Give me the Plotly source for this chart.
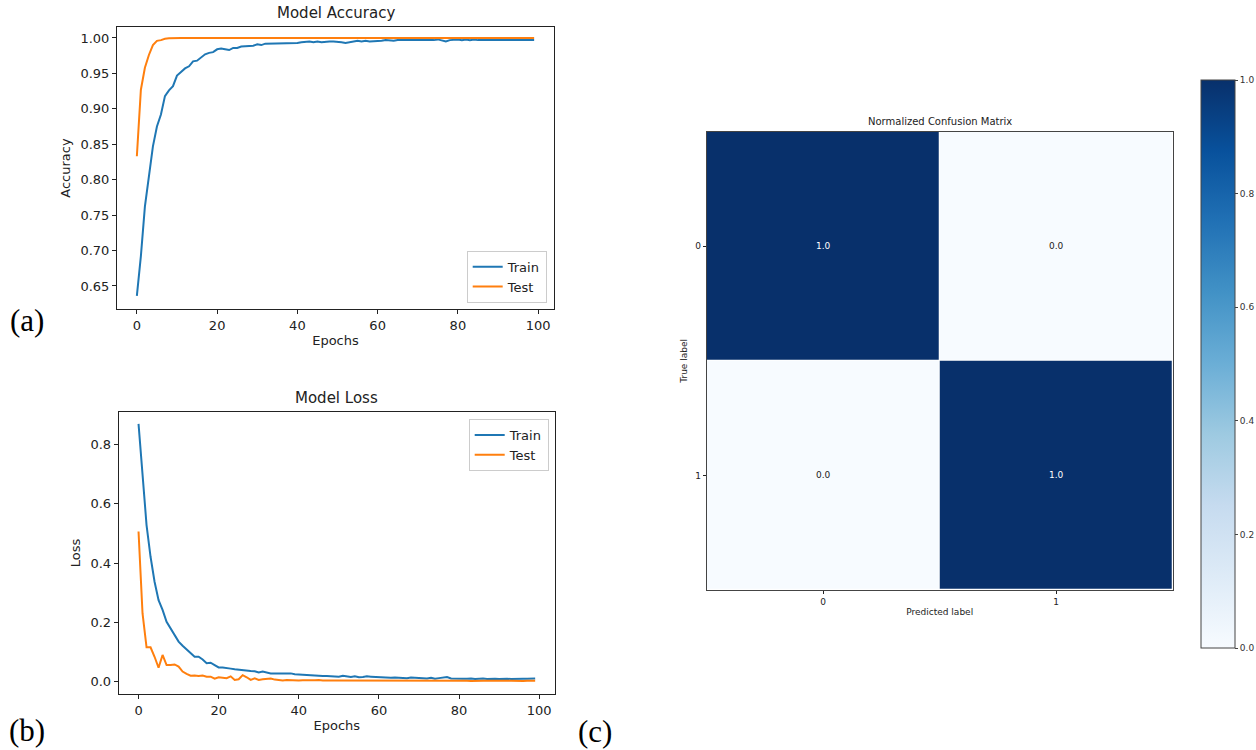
import plotly.graph_objects as go

W, H = 1256, 750

# ---------------- training history ----------------
epochs = list(range(100))

train_acc = [
    0.636, 0.692, 0.762, 0.805, 0.847, 0.875, 0.892, 0.918, 0.926, 0.932,
    0.947, 0.952, 0.957, 0.960, 0.967, 0.968, 0.972, 0.977, 0.979, 0.980,
    0.984, 0.985, 0.984, 0.983, 0.986, 0.986, 0.988, 0.988, 0.989, 0.989,
    0.991, 0.990, 0.992, 0.992, 0.992, 0.992, 0.993, 0.993, 0.992, 0.993,
    0.993, 0.994, 0.995, 0.995, 0.994, 0.995, 0.994, 0.995, 0.995, 0.995,
    0.995, 0.994, 0.993, 0.994, 0.995, 0.996, 0.995, 0.996, 0.995, 0.995,
    0.996, 0.996, 0.997, 0.996, 0.996, 0.997, 0.997, 0.997, 0.996, 0.996,
    0.996, 0.997, 0.996, 0.997, 0.997, 0.998, 0.996, 0.995, 0.997, 0.998,
    0.998, 0.997, 0.998, 0.997, 0.998, 0.997, 0.997, 0.998, 0.997, 0.998,
    0.997, 0.998, 0.997, 0.998, 0.997, 0.998, 0.998, 0.997, 0.997, 0.997,
]

test_acc = [
    0.833, 0.927, 0.958, 0.976, 0.990, 0.996, 0.997, 0.999, 0.9995, 1.0,
    1.0, 1.0, 1.0, 1.0, 1.0, 1.0, 1.0, 1.0, 1.0, 1.0,
    1.0, 1.0, 1.0, 1.0, 1.0, 1.0, 1.0, 1.0, 1.0, 1.0,
    1.0, 1.0, 1.0, 1.0, 1.0, 1.0, 1.0, 1.0, 1.0, 1.0,
    1.0, 1.0, 1.0, 1.0, 1.0, 1.0, 1.0, 1.0, 1.0, 1.0,
    1.0, 1.0, 1.0, 1.0, 1.0, 1.0, 1.0, 1.0, 1.0, 1.0,
    1.0, 1.0, 1.0, 1.0, 1.0, 1.0, 1.0, 1.0, 1.0, 1.0,
    1.0, 1.0, 1.0, 1.0, 1.0, 1.0, 1.0, 1.0, 1.0, 1.0,
    1.0, 1.0, 1.0, 1.0, 1.0, 1.0, 1.0, 1.0, 1.0, 1.0,
    1.0, 1.0, 1.0, 1.0, 1.0, 1.0, 1.0, 1.0, 1.0, 1.0,
]

train_loss = [
    0.869, 0.691, 0.528, 0.421, 0.337, 0.275, 0.242, 0.202, 0.180, 0.157,
    0.135, 0.121, 0.109, 0.096, 0.084, 0.084, 0.075, 0.062, 0.064, 0.056,
    0.048, 0.048, 0.047, 0.044, 0.042, 0.040, 0.038, 0.036, 0.036, 0.035,
    0.031, 0.034, 0.030, 0.028, 0.028, 0.028, 0.027, 0.026, 0.028, 0.025,
    0.024, 0.023, 0.021, 0.020, 0.019, 0.019, 0.019, 0.019, 0.018, 0.019,
    0.017, 0.020, 0.019, 0.016, 0.018, 0.015, 0.016, 0.018, 0.017, 0.016,
    0.015, 0.014, 0.014, 0.013, 0.014, 0.013, 0.013, 0.012, 0.014, 0.013,
    0.012, 0.012, 0.011, 0.013, 0.010, 0.012, 0.014, 0.016, 0.011, 0.010,
    0.011, 0.010, 0.010, 0.011, 0.009, 0.010, 0.011, 0.009, 0.010, 0.010,
    0.009, 0.010, 0.010, 0.009, 0.010, 0.009, 0.010, 0.010, 0.011, 0.011,
]

test_loss = [
    0.506, 0.230, 0.116, 0.116, 0.084, 0.047, 0.090, 0.056, 0.056, 0.058,
    0.051, 0.034, 0.026, 0.020, 0.021, 0.019, 0.021, 0.017, 0.017, 0.010,
    0.015, 0.013, 0.012, 0.018, 0.006, 0.008, 0.022, 0.015, 0.006, 0.011,
    0.006, 0.008, 0.009, 0.011, 0.007, 0.006, 0.004, 0.006, 0.005, 0.004,
    0.004, 0.005, 0.004, 0.005, 0.005, 0.006, 0.004, 0.003, 0.004, 0.004,
    0.004, 0.004, 0.005, 0.004, 0.004, 0.004, 0.003, 0.003, 0.003, 0.003,
    0.003, 0.003, 0.003, 0.004, 0.003, 0.003, 0.003, 0.004, 0.005, 0.003,
    0.003, 0.003, 0.003, 0.003, 0.003, 0.003, 0.003, 0.003, 0.003, 0.003,
    0.003, 0.003, 0.003, 0.002, 0.003, 0.003, 0.003, 0.003, 0.002, 0.003,
    0.003, 0.002, 0.003, 0.003, 0.002, 0.003, 0.002, 0.003, 0.003, 0.003,
]

# ---------------- confusion matrix ----------------
class_labels = ["0", "1"]
cm_norm = [
    [1.0, 0.0],
    [0.0, 1.0],
]

series_names = ["Train", "Test"]
BLUE, ORANGE = "#1f77b4", "#ff7f0e"
BLUES = ["#f7fbff", "#deebf7", "#c6dbef", "#9ecae1", "#6baed6",
         "#4292c6", "#2171b5", "#08519c", "#08306b"]
SANS = "DejaVu Sans"
SERIF = "Liberation Serif"


def px_x(p):
    return p / W


def px_y(p):
    return 1 - p / H


fig = go.Figure()

# accuracy curves
fig.add_trace(go.Scatter(x=epochs, y=train_acc, mode="lines", name=series_names[0],
                         line=dict(color=BLUE, width=2), xaxis="x", yaxis="y",
                         legend="legend"))
fig.add_trace(go.Scatter(x=epochs, y=test_acc, mode="lines", name=series_names[1],
                         line=dict(color=ORANGE, width=2), xaxis="x", yaxis="y",
                         legend="legend"))

# loss curves
fig.add_trace(go.Scatter(x=epochs, y=train_loss, mode="lines", name=series_names[0],
                         line=dict(color=BLUE, width=2), xaxis="x2", yaxis="y2",
                         legend="legend2"))
fig.add_trace(go.Scatter(x=epochs, y=test_loss, mode="lines", name=series_names[1],
                         line=dict(color=ORANGE, width=2), xaxis="x2", yaxis="y2",
                         legend="legend2"))

# confusion matrix heatmap
cell_text = [[f"{v:.1f}" for v in row] for row in cm_norm]
scale = [[i / (len(BLUES) - 1), c] for i, c in enumerate(BLUES)]
fig.add_trace(go.Heatmap(
    z=cm_norm, x=[0, 1], y=[0, 1], xaxis="x3", yaxis="y3",
    colorscale=scale, zmin=0, zmax=1, xgap=1, ygap=1,
    showscale=True, hoverinfo="skip",
    colorbar=dict(
        x=px_x(1201), xanchor="left", xpad=0, ypad=0,
        y=px_y(648), yanchor="bottom", len=(648 - 80) / H, lenmode="fraction",
        thickness=34, thicknessmode="pixels",
        outlinecolor="#444", outlinewidth=1,
        tickvals=[0.0, 0.2, 0.4, 0.6, 0.8, 1.0], ticktext=["0.0", "0.2", "0.4", "0.6", "0.8", "1.0"],
        ticks="outside", ticklen=3, tickcolor="#444",
        tickfont=dict(family=SANS, size=9, color="#333"),
    ),
))

# value annotations on cells
for i, row in enumerate(cm_norm):
    for j, v in enumerate(row):
        fig.add_annotation(x=j, y=i, xref="x3", yref="y3", text=cell_text[i][j],
                           showarrow=False,
                           font=dict(family=SANS, size=9,
                                     color="white" if v > 0.5 else "#222"))

axis_common = dict(
    showline=True, mirror=True, linecolor="#222", linewidth=1,
    ticks="outside", ticklen=4, tickcolor="#222", showgrid=False, zeroline=False,
    tickfont=dict(family=SANS, size=13, color="#222"),
)

fig.update_layout(
    width=W, height=H, margin=dict(l=0, r=0, t=0, b=0),
    paper_bgcolor="white", plot_bgcolor="white",
    font=dict(family=SANS, color="#222"),
    xaxis=dict(axis_common, domain=[px_x(117), px_x(554)], range=[-4.95, 103.95],
               tickvals=[0, 20, 40, 60, 80, 100], anchor="y",
               title=dict(text="Epochs", font=dict(size=13), standoff=4)),
    yaxis=dict(axis_common, domain=[px_y(309), px_y(27)], range=[0.6175, 1.0155],
               tickvals=[0.65, 0.70, 0.75, 0.80, 0.85, 0.90, 0.95, 1.00],
               tickformat=".2f", anchor="x",
               title=dict(text="Accuracy", font=dict(size=13), standoff=6)),
    xaxis2=dict(axis_common, domain=[px_x(118.7), px_x(555)], range=[-4.95, 103.95],
                tickvals=[0, 20, 40, 60, 80, 100], anchor="y2",
                title=dict(text="Epochs", font=dict(size=13), standoff=4)),
    yaxis2=dict(axis_common, domain=[px_y(694), px_y(412)], range=[-0.0415, 0.909],
                tickvals=[0.0, 0.2, 0.4, 0.6, 0.8], tickformat=".1f", anchor="x2",
                title=dict(text="Loss", font=dict(size=13), standoff=6)),
    xaxis3=dict(axis_common, domain=[px_x(706.7), px_x(1172.7)], range=[-0.5, 1.5],
                tickvals=[0, 1], ticktext=class_labels, anchor="y3",
                linecolor="#444", ticklen=3,
                tickfont=dict(family=SANS, size=9, color="#222"),
                title=dict(text="Predicted label", font=dict(size=9), standoff=2)),
    yaxis3=dict(axis_common, domain=[px_y(590), px_y(131.7)], range=[1.5, -0.5],
                tickvals=[0, 1], ticktext=class_labels, anchor="x3",
                linecolor="#444", ticklen=3,
                tickfont=dict(family=SANS, size=9, color="#222"),
                title=dict(text="True label", font=dict(size=9), standoff=6)),
    legend=dict(x=px_x(546.7), y=px_y(302.7), xanchor="right", yanchor="bottom",
                bgcolor="white", bordercolor="#cccccc", borderwidth=1,
                font=dict(family=SANS, size=13, color="#222"),
                itemwidth=30, tracegroupgap=0),
    legend2=dict(x=px_x(548.7), y=px_y(419), xanchor="right", yanchor="top",
                 bgcolor="white", bordercolor="#cccccc", borderwidth=1,
                 font=dict(family=SANS, size=13, color="#222"),
                 itemwidth=30, tracegroupgap=0),
)

# panel titles
titles = [("Model Accuracy", 335.5, 13, 15), ("Model Loss", 336.8, 398, 15),
          ("Normalized Confusion Matrix", 939.7, 122, 10)]
for text, cx, cy, size in titles:
    fig.add_annotation(x=px_x(cx), y=px_y(cy), xref="paper", yref="paper",
                       text=text, showarrow=False, xanchor="center", yanchor="middle",
                       font=dict(family=SANS, size=size, color="#222"))

# panel letters
letters = [("(a)", 27, 320), ("(b)", 27, 730), ("(c)", 595, 731)]
for text, cx, cy in letters:
    fig.add_annotation(x=px_x(cx), y=px_y(cy), xref="paper", yref="paper",
                       text=text, showarrow=False, xanchor="center", yanchor="middle",
                       font=dict(family=SERIF, size=31, color="#000"))

fig.write_html("out.html")
